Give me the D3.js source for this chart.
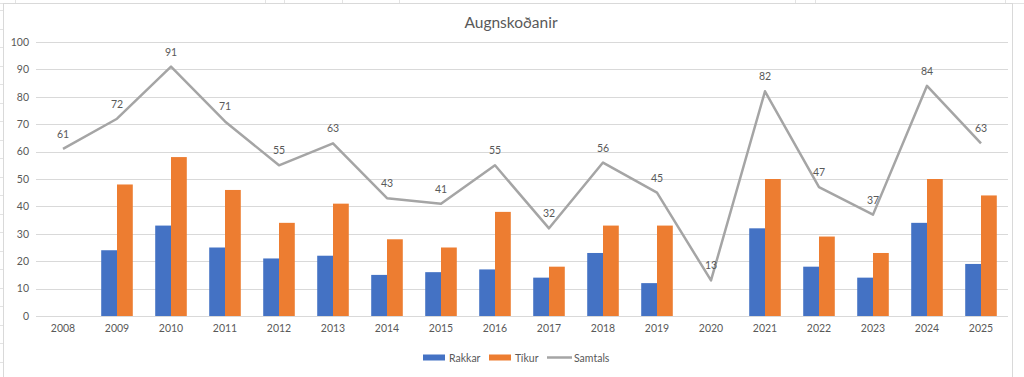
<!DOCTYPE html>
<html>
<head>
<meta charset="utf-8">
<script src="https://cdn.jsdelivr.net/npm/d3@7"></script>
<style>
  html, body { margin: 0; padding: 0; background: #fff; }
  svg { display: block; }
  text { font-family: "Lato", "Open Sans", sans-serif; fill: #595959; }
</style>
</head>
<body>
<svg id="chart" width="1024" height="377"></svg>
<script>
const years = ["2008","2009","2010","2011","2012","2013","2014","2015","2016","2017","2018","2019","2020","2021","2022","2023","2024","2025"];
const rakkar = [null,24,33,25,21,22,15,16,17,14,23,12,null,32,18,14,34,19];
const tikur  = [null,48,58,46,34,41,28,25,38,18,33,33,null,50,29,23,50,44];
const samtals = [61,72,91,71,55,63,43,41,55,32,56,45,13,82,47,37,84,63];
const yTicks = [0,10,20,30,40,50,60,70,80,90,100];
const seriesNames = ["Rakkar","Tíkur","Samtals"];
const colors = { Rakkar: "#4472c4", "Tíkur": "#ed7d31", Samtals: "#a5a5a5" };

const svg = d3.select("#chart");
const W = 1024, H = 377;

// spreadsheet background lines
const sheet = svg.append("g").attr("stroke", "#e3e3e3").attr("stroke-width", 1);
sheet.append("line").attr("x1", 0).attr("x2", W).attr("y1", 3.5).attr("y2", 3.5);
[15, 265, 284, 342, 399, 795, 815, 1005].forEach(x =>
  sheet.append("line").attr("x1", x + 0.5).attr("x2", x + 0.5).attr("y1", 0).attr("y2", 3.5));
for (let y = 10; y < H; y += 18.5) {
  sheet.append("line").attr("x1", 0).attr("x2", 3.5).attr("y1", Math.round(y) + 0.5).attr("y2", Math.round(y) + 0.5);
}
// chart area
svg.append("rect").attr("x", 3.5).attr("y", 3.5).attr("width", 1009).attr("height", H)
  .attr("fill", "#fff").attr("stroke", "#d9d9d9");

const plot = { left: 36, right: 1008, top: 42, bottom: 316 };

const x = d3.scaleBand().domain(years).range([plot.left, plot.right]).paddingInner(0).paddingOuter(0);
const y = d3.scaleLinear().domain([0, 100]).range([plot.bottom, plot.top]);
const x1 = d3.scaleBand().domain(["Rakkar","Tíkur"]).range([0, x.bandwidth()]).paddingOuter(0.71).paddingInner(0);

// gridlines
svg.append("g").selectAll("line").data(yTicks).join("line")
  .attr("x1", plot.left).attr("x2", plot.right)
  .attr("y1", d => Math.round(y(d)) + 0.5).attr("y2", d => Math.round(y(d)) + 0.5)
  .attr("stroke", "#d9d9d9").attr("stroke-width", 1);

// y axis labels
const yAxis = d3.axisLeft(y).tickValues(yTicks).tickSize(0).tickPadding(0);
const gy = svg.append("g").attr("transform", `translate(${plot.left - 7},0)`).call(yAxis);
gy.select(".domain").remove();
gy.selectAll("text").style("font-size", "10.5px").attr("fill", "#595959").style("font-family", "Lato, sans-serif");

// x axis labels
const xAxis = d3.axisBottom(x).tickSize(0).tickPadding(0);
const gx = svg.append("g").attr("transform", `translate(0,${plot.bottom + 9})`).call(xAxis);
gx.select(".domain").remove();
gx.selectAll("text").style("font-size", "10.5px").attr("fill", "#595959").style("font-family", "Lato, sans-serif");

// bars
const barData = [];
years.forEach((yr, i) => {
  if (rakkar[i] != null) barData.push({ yr, key: "Rakkar", v: rakkar[i] });
  if (tikur[i] != null) barData.push({ yr, key: "Tíkur", v: tikur[i] });
});
svg.append("g").selectAll("rect").data(barData).join("rect")
  .attr("x", d => x(d.yr) + x1(d.key))
  .attr("width", x1.bandwidth())
  .attr("y", d => y(d.v))
  .attr("height", d => y(0) - y(d.v))
  .attr("fill", d => colors[d.key]);

// line
const line = d3.line().x((d, i) => x(years[i]) + x.bandwidth() / 2).y(d => y(d));
svg.append("path").datum(samtals).attr("d", line)
  .attr("fill", "none").attr("stroke", colors.Samtals).attr("stroke-width", 2.5)
  .attr("stroke-linejoin", "round");

// data labels
svg.append("g").selectAll("text").data(samtals).join("text")
  .attr("x", (d, i) => x(years[i]) + x.bandwidth() / 2)
  .attr("y", d => y(d) - 11)
  .attr("text-anchor", "middle")
  .style("font-size", "10.5px")
  .text(d => d);

// title
svg.append("text").attr("x", 511).attr("y", 28).attr("text-anchor", "middle")
  .style("font-size", "15.5px").text("Augnskoðanir");

// legend
const lg = svg.append("g").style("font-size", "10.5px");
const legendItems = [
  { name: "Rakkar", x: 423, type: "rect" },
  { name: "Tíkur", x: 489, type: "rect" },
  { name: "Samtals", x: 547, type: "line" }
];
const ly = 358;
legendItems.forEach(it => {
  if (it.type === "rect") {
    lg.append("rect").attr("x", it.x).attr("y", ly - 3.5).attr("width", 22).attr("height", 6).attr("fill", colors[it.name]);
  } else {
    lg.append("line").attr("x1", it.x).attr("x2", it.x + 25).attr("y1", ly - 0.5).attr("y2", ly - 0.5)
      .attr("stroke", colors[it.name]).attr("stroke-width", 2.5);
  }
  lg.append("text").attr("x", it.x + (it.type === "rect" ? 26 : 27)).attr("y", ly + 3.5).text(it.name);
});
</script>
</body>
</html>
